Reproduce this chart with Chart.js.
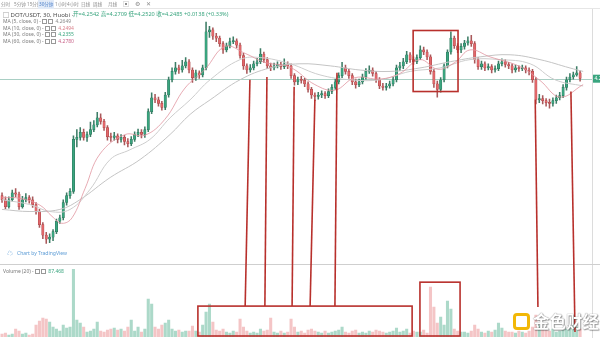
<!DOCTYPE html>
<html><head><meta charset="utf-8">
<script src="https://cdn.jsdelivr.net/npm/chart.js@4"></script>
<style>
html,body{margin:0;padding:0;background:#fff;}
#wrap{position:relative;width:600px;height:342px;overflow:hidden;font-family:"Noto Sans","Noto Sans CJK SC",sans-serif;}
#c{position:absolute;left:0;top:0;}
.t{position:absolute;white-space:nowrap;line-height:1;}
.tb{font-size:4.6px;color:#8d8d8d;top:2px;}
.ma{font-size:5px;color:#7a7a7a;left:3px;}
.bx{display:inline-block;width:3px;height:3px;border:0.6px solid #999;margin-right:1px;vertical-align:middle;}
</style></head><body>
<div id="wrap">
<canvas id="c" width="600" height="342"></canvas>
<div class="t tb" style="left:1px">分时</div>
<div class="t tb" style="left:14px">5分钟</div>
<div class="t tb" style="left:27px">15分钟</div>
<div class="t tb" style="left:38px;top:0;padding:2px 1px;background:#e2ebf8;color:#4a7fc9">30分钟</div>
<div class="t tb" style="left:55px">1小时</div>
<div class="t tb" style="left:67px">4小时</div>
<div class="t tb" style="left:81px">日线</div>
<div class="t tb" style="left:93px">周线</div>
<div class="t tb" style="left:108px">月线</div>
<div class="t tb" style="left:123px;font-size:6px;top:1px">▣</div>
<div class="t tb" style="left:135px;font-size:6px;top:1px">⚙</div>
<div class="t tb" style="left:146px;font-size:6px;top:1px">✕</div>
<div class="t" style="left:3px;top:12px;font-size:6px;color:#4d4d4d">□ DOT/USDT, 30, Huobi -</div>
<div class="t" style="left:73px;top:12px;font-size:5.6px;color:#3aa57f">开=4.2542 高=4.2709 低=4.2520 收=4.2485 +0.0138 (+0.33%)</div>
<div class="t ma" style="top:19px">MA (5, close, 0) - <span class="bx"></span><span class="bx"></span> <span style="color:#8a8a8a">4.2649</span></div>
<div class="t ma" style="top:25.5px">MA (10, close, 0) - <span class="bx"></span><span class="bx"></span> <span style="color:#d9838d">4.2494</span></div>
<div class="t ma" style="top:32px">MA (30, close, 0) - <span class="bx"></span><span class="bx"></span> <span style="color:#3aa57f">4.2355</span></div>
<div class="t ma" style="top:38.5px">MA (60, close, 0) - <span class="bx"></span><span class="bx"></span> <span style="color:#c9648a">4.2780</span></div>
<div class="t" style="left:7px;top:250px;font-size:6px;color:#5b9bd5">☁</div>
<div class="t" style="left:17px;top:251px;font-size:5px;color:#5b9bd5">Chart by TradingView</div>
<div class="t" style="left:3px;top:269px;font-size:5px;color:#7a7a7a">Volume (20) - <span class="bx"></span><span class="bx"></span> <span style="color:#3aa57f">87.468</span></div>
<div class="t" style="left:513px;top:313px;width:11px;height:11px;border:3px solid #f2b807;border-radius:4px;background:#fff"></div>
<div class="t" style="left:533px;top:313px;font-size:16.5px;font-weight:bold;font-family:'Noto Sans CJK SC';color:#fff;text-shadow:0 0 1px #555,1px 1px 1px rgba(0,0,0,0.35)">金色财经</div>
</div>
<script>
// ---- data (DOT/USDT 30min, Huobi) ----
const opens = [
4.080,4.074,4.064,4.074,4.084,4.082,4.064,4.074,4.077,4.074,
4.067,4.057,4.038,4.023,4.017,4.020,4.028,4.043,4.048,4.070,
4.080,4.086,4.161,4.164,4.171,4.164,4.168,4.175,4.182,4.192,
4.187,4.178,4.165,4.164,4.166,4.161,4.164,4.158,4.155,4.161,
4.168,4.171,4.168,4.175,4.201,4.221,4.218,4.213,4.207,4.225,
4.247,4.259,4.264,4.261,4.267,4.273,4.261,4.250,4.257,4.254,
4.264,4.316,4.319,4.310,4.307,4.299,4.290,4.296,4.302,4.303,
4.297,4.282,4.267,4.261,4.264,4.270,4.273,4.284,4.276,4.267,
4.264,4.267,4.269,4.266,4.270,4.267,4.253,4.244,4.247,4.246,
4.241,4.233,4.225,4.223,4.225,4.227,4.224,4.230,4.236,4.244,
4.253,4.264,4.259,4.253,4.244,4.240,4.244,4.251,4.259,4.261,
4.256,4.247,4.238,4.236,4.238,4.241,4.247,4.264,4.267,4.273,
4.283,4.276,4.273,4.279,4.290,4.287,4.280,4.259,4.241,4.233,
4.247,4.267,4.287,4.307,4.296,4.290,4.295,4.300,4.303,4.299,
4.276,4.266,4.270,4.264,4.266,4.261,4.263,4.270,4.273,4.269,
4.267,4.261,4.264,4.263,4.264,4.261,4.259,4.247,4.218,4.220,
4.217,4.214,4.213,4.217,4.221,4.224,4.236,4.247,4.251,4.254,
4.257];
const highs = [
4.084,4.078,4.078,4.088,4.090,4.085,4.079,4.083,4.080,4.078,
4.070,4.060,4.041,4.027,4.025,4.031,4.046,4.052,4.074,4.084,
4.090,4.166,4.175,4.178,4.176,4.172,4.186,4.188,4.200,4.198,
4.190,4.181,4.170,4.171,4.169,4.168,4.167,4.162,4.165,4.172,
4.176,4.175,4.179,4.205,4.228,4.226,4.222,4.216,4.229,4.251,
4.264,4.272,4.268,4.275,4.279,4.276,4.264,4.261,4.260,4.268,
4.330,4.324,4.322,4.314,4.310,4.302,4.300,4.307,4.309,4.306,
4.300,4.285,4.270,4.269,4.274,4.278,4.292,4.287,4.279,4.271,
4.271,4.273,4.272,4.277,4.273,4.270,4.256,4.251,4.252,4.249,
4.244,4.236,4.228,4.229,4.231,4.230,4.234,4.240,4.248,4.257,
4.272,4.268,4.262,4.256,4.248,4.248,4.255,4.263,4.267,4.264,
4.259,4.250,4.242,4.242,4.245,4.251,4.268,4.272,4.278,4.288,
4.286,4.280,4.283,4.296,4.294,4.290,4.283,4.262,4.245,4.250,
4.270,4.290,4.316,4.310,4.299,4.299,4.304,4.309,4.311,4.302,
4.279,4.274,4.273,4.270,4.269,4.267,4.274,4.277,4.276,4.272,
4.270,4.268,4.267,4.268,4.267,4.264,4.262,4.250,4.226,4.224,
4.220,4.219,4.221,4.225,4.229,4.240,4.251,4.256,4.258,4.266,
4.260];
const lows = [
4.070,4.061,4.062,4.072,4.078,4.060,4.062,4.071,4.069,4.063,
4.053,4.034,4.018,4.011,4.012,4.015,4.025,4.040,4.045,4.066,
4.076,4.083,4.150,4.160,4.160,4.158,4.165,4.172,4.179,4.183,
4.174,4.160,4.158,4.160,4.156,4.157,4.153,4.150,4.152,4.158,
4.165,4.163,4.164,4.172,4.198,4.214,4.209,4.203,4.204,4.222,
4.244,4.255,4.256,4.258,4.264,4.257,4.243,4.246,4.249,4.251,
4.261,4.308,4.305,4.302,4.295,4.285,4.287,4.293,4.299,4.293,
4.278,4.262,4.256,4.258,4.261,4.267,4.270,4.272,4.263,4.260,
4.261,4.264,4.262,4.263,4.263,4.249,4.239,4.240,4.242,4.237,
4.229,4.220,4.217,4.219,4.221,4.220,4.221,4.227,4.233,4.241,
4.250,4.255,4.249,4.240,4.235,4.237,4.241,4.248,4.256,4.252,
4.243,4.234,4.232,4.232,4.235,4.238,4.244,4.260,4.263,4.270,
4.272,4.269,4.270,4.276,4.283,4.276,4.255,4.236,4.222,4.229,
4.244,4.264,4.284,4.292,4.286,4.286,4.291,4.297,4.295,4.271,
4.262,4.262,4.260,4.261,4.257,4.258,4.260,4.267,4.265,4.263,
4.257,4.258,4.259,4.260,4.257,4.254,4.243,4.212,4.214,4.212,
4.209,4.206,4.209,4.213,4.218,4.221,4.232,4.244,4.248,4.252,
4.245];
const closes = [
4.074,4.064,4.074,4.084,4.082,4.064,4.074,4.077,4.074,4.067,
4.057,4.038,4.023,4.017,4.020,4.028,4.043,4.048,4.070,4.080,
4.086,4.161,4.164,4.171,4.164,4.168,4.175,4.182,4.192,4.187,
4.178,4.165,4.164,4.166,4.161,4.164,4.158,4.155,4.161,4.168,
4.171,4.168,4.175,4.201,4.221,4.218,4.213,4.207,4.225,4.247,
4.259,4.264,4.261,4.267,4.273,4.261,4.250,4.257,4.254,4.264,
4.316,4.319,4.310,4.307,4.299,4.290,4.296,4.302,4.303,4.297,
4.282,4.267,4.261,4.264,4.270,4.273,4.284,4.276,4.267,4.264,
4.267,4.269,4.266,4.270,4.267,4.253,4.244,4.247,4.246,4.241,
4.233,4.225,4.223,4.225,4.227,4.224,4.230,4.236,4.244,4.253,
4.264,4.259,4.253,4.244,4.240,4.244,4.251,4.259,4.261,4.256,
4.247,4.238,4.236,4.238,4.241,4.247,4.264,4.267,4.273,4.283,
4.276,4.273,4.279,4.290,4.287,4.280,4.259,4.241,4.233,4.247,
4.267,4.287,4.307,4.296,4.290,4.295,4.300,4.303,4.299,4.276,
4.266,4.270,4.264,4.266,4.261,4.263,4.270,4.273,4.269,4.267,
4.261,4.264,4.263,4.264,4.261,4.259,4.247,4.218,4.220,4.217,
4.214,4.213,4.217,4.221,4.224,4.236,4.247,4.251,4.254,4.257,
4.249];
const volumes = [ // thousands
6,8,4,6,16,12,6,8,4,6,
24,32,38,36,30,20,16,12,24,18,
20,136,34,28,20,10,12,16,30,12,
10,14,16,18,14,16,12,20,34,12,
20,10,16,76,66,20,16,24,28,34,
16,12,14,10,12,12,22,12,10,24,
50,66,30,14,12,16,10,8,12,10,
36,20,12,8,10,8,16,12,14,38,
10,8,12,8,10,36,20,10,12,8,
14,16,12,10,8,12,8,10,12,14,
20,10,8,12,14,8,10,8,12,10,
14,12,10,8,10,12,18,10,12,16,
8,12,10,10,14,8,100,60,28,40,
24,72,56,16,12,10,10,8,12,24,
16,10,8,12,10,14,28,18,12,10,
10,8,12,10,8,12,20,44,24,16,
14,12,16,10,12,14,16,18,24,20,
16];
// moving averages at sample candles
const ma10X = [0,5.3,11.2,14.7,17.6,20.6,24.4,28.8,36.2,42,47.9,53.8,59.7,65.6,71.5,77.3,84.7,92,97.9,103.8,111.2,117,122.9,128.2,133.2,137.6,143.5,152.3,158.2,164.1,170.9];
const ma10Y = [4.077,4.076,4.066,4.050,4.040,4.048,4.090,4.140,4.168,4.167,4.190,4.235,4.262,4.295,4.285,4.272,4.265,4.240,4.232,4.250,4.248,4.256,4.276,4.262,4.272,4.290,4.280,4.266,4.246,4.222,4.240];
const ma30X = [0,8.2,14.1,20,25.9,31.8,37.6,43.5,49.4,55.3,61.2,70,75.9,84.7,93.5,102.3,111.2,120,128.8,137.6,146.5,155.3,162.6,170.9];
const ma30Y = [4.074,4.067,4.057,4.060,4.089,4.132,4.146,4.161,4.192,4.218,4.247,4.276,4.279,4.270,4.254,4.247,4.247,4.259,4.264,4.276,4.276,4.270,4.247,4.238];
const ma60X = [0,8.2,17,22.9,31.8,40.6,49.4,55.3,61.2,70,78.8,87.6,96.5,105.3,114.1,122.9,131.8,140.6,149.4,158.2,167,170.9];
const ma60Y = [4.060,4.057,4.060,4.074,4.106,4.132,4.168,4.197,4.218,4.247,4.264,4.270,4.267,4.261,4.259,4.264,4.273,4.280,4.283,4.276,4.264,4.259];
const lastPrice = 4.2485;
const priceTicks = [4.34,4.32,4.30,4.28,4.26,4.24,4.22,4.20,4.18,4.16,4.14,4.12,4.10,4.08,4.06,4.04,4.02,4.00];
const volumeTicks = [140,120,100,80,60,40,20];
// red annotations: [candle, price] -> [candle, volume]
const arrowLinks = [
  [72.9,4.247,71.5,62],[77.9,4.251,77.3,62],[85.9,4.237,85.3,62],
  [92.0,4.218,90.6,62],[98.5,4.257,97.9,62],[156.8,4.218,157.6,60],[167.3,4.230,168.5,10]
];
const priceBoxes = [[120.9,134.1,4.318,4.230]]; // [candleFrom, candleTo, priceTop, priceBottom]
const volumeBoxes = [[57.6,120.6,62,2],[122.9,134.7,110,2]];

const UP='#3aa57f', DOWN='#e2676a';
const isUp = closes.map((c,i)=>c>=opens[i]);
const idx = closes.map((_,i)=>i);

const overlay = {
  id:'overlay',
  beforeDatasetsDraw(chart){
    const {ctx, chartArea, scales:{y,yv}} = chart;
    ctx.save();
    ctx.lineWidth=1;
    ctx.strokeStyle='#e6e6e6';
    ctx.beginPath(); ctx.moveTo(0,8.5); ctx.lineTo(600,8.5); ctx.stroke();
    ctx.strokeStyle='#cfcfcf';
    const sy=Math.round(yv.top)+0.5;
    ctx.beginPath(); ctx.moveTo(0,sy); ctx.lineTo(600,sy); ctx.stroke();
    const py=Math.round(y.getPixelForValue(lastPrice))+0.5;
    ctx.strokeStyle='#a9cfc4';
    ctx.beginPath(); ctx.moveTo(chartArea.left,py); ctx.lineTo(chartArea.right,py); ctx.stroke();
    ctx.restore();
  },
  afterDatasetsDraw(chart){
    const {ctx, chartArea, scales:{x,y,yv}} = chart;
    ctx.save();
    ctx.strokeStyle='#b8302c'; ctx.lineWidth=1.6;
    arrowLinks.forEach(([i1,p,i2,v])=>{
      ctx.beginPath(); ctx.moveTo(x.getPixelForValue(i1),y.getPixelForValue(p));
      ctx.lineTo(x.getPixelForValue(i2),yv.getPixelForValue(v)); ctx.stroke();
    });
    priceBoxes.forEach(([a,b,t,btm])=>{
      const x1=x.getPixelForValue(a),x2=x.getPixelForValue(b),y1=y.getPixelForValue(t),y2=y.getPixelForValue(btm);
      ctx.strokeRect(x1,y1,x2-x1,y2-y1);
    });
    volumeBoxes.forEach(([a,b,t,btm])=>{
      const x1=x.getPixelForValue(a),x2=x.getPixelForValue(b),y1=yv.getPixelForValue(t),y2=yv.getPixelForValue(btm);
      ctx.strokeRect(x1,y1,x2-x1,y2-y1);
    });
    const py=y.getPixelForValue(lastPrice);
    ctx.fillStyle='#3aa57f';
    ctx.fillRect(chartArea.right+1,py-4,12,8);
    ctx.fillStyle='#fff'; ctx.font='5px "Noto Sans"'; ctx.textBaseline='middle';
    ctx.fillText(lastPrice.toFixed(4),chartArea.right+2.5,py);
    ctx.restore();
  }
};

new Chart(document.getElementById('c'),{
  type:'bar',
  data:{datasets:[
    {type:'bar',label:'Volume',yAxisID:'yv',grouped:false,order:6,barThickness:2.4,
      data:volumes.map((v,i)=>({x:i,y:v})),
      backgroundColor:isUp.map(u=>u?'rgba(58,165,127,0.42)':'rgba(226,103,106,0.38)')},
    {type:'bar',label:'Wick',yAxisID:'y',grouped:false,order:5,barThickness:0.9,
      data:idx.map(i=>({x:i,y:[lows[i],highs[i]]})),
      backgroundColor:isUp.map(u=>u?'#3d7d66':'#a9585a')},
    {type:'bar',label:'Body',yAxisID:'y',grouped:false,order:4,barThickness:2.4,minBarLength:1,
      data:idx.map(i=>({x:i,y:[opens[i],closes[i]]})),
      backgroundColor:isUp.map(u=>u?UP:DOWN),
      borderColor:isUp.map(u=>u?'#2c7058':'#a84648'),borderWidth:0.5,borderSkipped:false},
    {type:'line',label:'MA60',yAxisID:'y',order:3,data:ma60X.map((v,k)=>({x:v,y:ma60Y[k]})),
      borderColor:'#c4c4c4',borderWidth:1,pointRadius:0,tension:0.4},
    {type:'line',label:'MA30',yAxisID:'y',order:2,data:ma30X.map((v,k)=>({x:v,y:ma30Y[k]})),
      borderColor:'#cdcdcd',borderWidth:1,pointRadius:0,tension:0.4},
    {type:'line',label:'MA10',yAxisID:'y',order:1,data:ma10X.map((v,k)=>({x:v,y:ma10Y[k]})),
      borderColor:'rgba(225,150,160,0.8)',borderWidth:1,pointRadius:0,tension:0.4}
  ]},
  options:{
    responsive:false,animation:false,devicePixelRatio:1,
    layout:{padding:{top:9,bottom:4,left:0,right:0}},
    plugins:{legend:{display:false},tooltip:{enabled:false}},
    scales:{
      x:{type:'linear',display:false,min:-0.6,max:173.5,offset:false,grid:{display:false}},
      y:{type:'linear',position:'right',stack:'p',stackWeight:256,min:3.981,max:4.349,
        grid:{display:false},border:{display:true,color:'#dcdcdc'},
        afterBuildTicks:s=>{s.ticks=priceTicks.map(v=>({value:v}));},
        afterFit:s=>{s.width=8;},
        ticks:{padding:2,font:{size:5,family:'Noto Sans'},color:'#777',callback:v=>v.toFixed(4)}},
      yv:{type:'linear',position:'right',stack:'p',stackWeight:73,min:0,max:146,
        grid:{display:false},border:{display:true,color:'#dcdcdc'},
        afterBuildTicks:s=>{s.ticks=volumeTicks.map(v=>({value:v}));},
        afterFit:s=>{s.width=8;},
        ticks:{padding:2,font:{size:5,family:'Noto Sans'},color:'#777',callback:v=>v+'K'}}
    }
  },
  plugins:[overlay]
});
</script>
</body></html>
